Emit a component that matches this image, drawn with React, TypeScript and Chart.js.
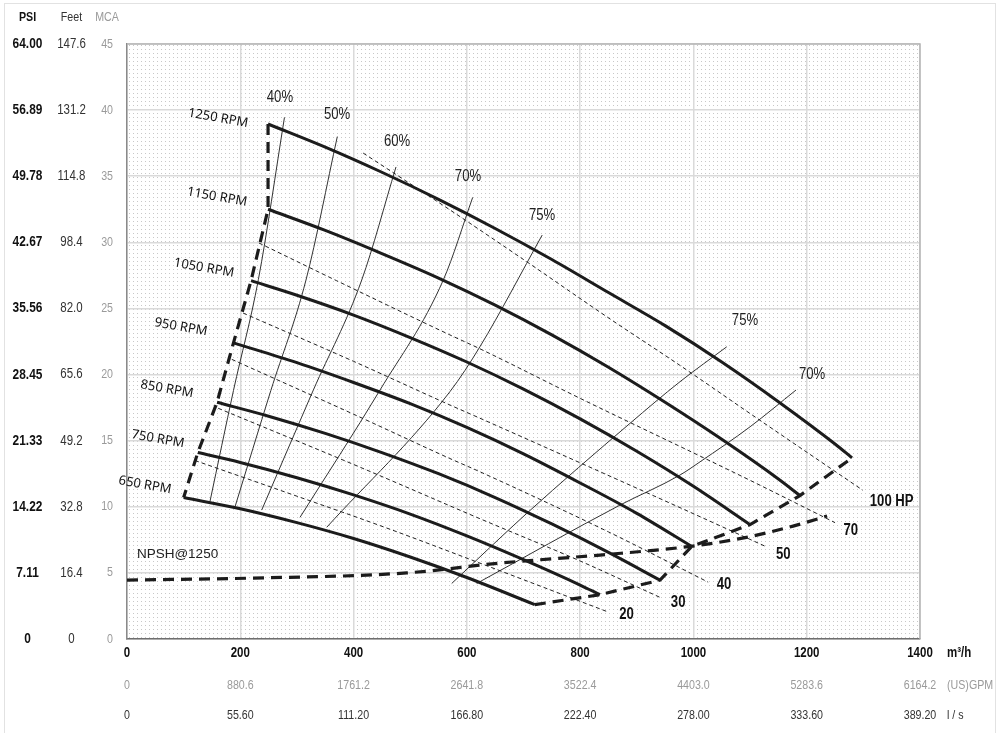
import React, { useEffect, useRef } from 'react';
import { Chart, registerables } from 'chart.js';

Chart.register(...registerables);

// condensed look: Liberation Sans drawn horizontally squeezed (see fillText wrapper)
const COND = "'Liberation Sans', Arial, sans-serif";
const HUMAN = "'Noto Sans', 'Open Sans', sans-serif";
const SQUEEZE = 0.82;

type Pt = [number, number];

// ---- tick labels ----
const flowTicks = ['0', '200', '400', '600', '800', '1000', '1200', '1400'];
const gpmTicks = ['0', '880.6', '1761.2', '2641.8', '3522.4', '4403.0', '5283.6', '6164.2'];
const lsTicks = ['0', '55.60', '111.20', '166.80', '222.40', '278.00', '333.60', '389.20'];
const mcaTicks = ['0', '5', '10', '15', '20', '25', '30', '35', '40', '45'];
const feetTicks = ['0', '16.4', '32.8', '49.2', '65.6', '82.0', '98.4', '114.8', '131.2', '147.6'];
const psiTicks = ['0', '7.11', '14.22', '21.33', '28.45', '35.56', '42.67', '49.78', '56.89', '64.00'];

// ---- pump curves (flow m3/h, head MCA) ----
const rpm1250: Pt[] = [[249, 38.95], [350, 37.2], [450, 35.3], [550, 33.25], [650, 31.05], [750, 28.7], [850, 26.2], [950, 23.7], [1050, 20.95], [1150, 17.95], [1250, 14.75], [1280, 13.7]];
const rpm1150: Pt[] = [[249, 32.5], [350, 30.9], [450, 29.15], [550, 27.3], [650, 25.25], [750, 23.0], [850, 20.55], [950, 17.9], [1050, 15.1], [1150, 12.1], [1188, 10.85]];
const rpm1050: Pt[] = [[219, 27.1], [300, 26.0], [400, 24.5], [500, 22.8], [600, 20.95], [700, 18.9], [800, 16.65], [900, 14.2], [1000, 11.55], [1100, 8.65]];
const rpm950: Pt[] = [[188, 22.4], [300, 20.9], [400, 19.4], [500, 17.8], [600, 16.0], [700, 14.0], [800, 11.8], [900, 9.5], [997, 7.0]];
const rpm850: Pt[] = [[159, 17.9], [250, 16.85], [350, 15.55], [450, 14.1], [550, 12.5], [650, 10.7], [750, 8.7], [850, 6.55], [941, 4.45]];
const rpm750: Pt[] = [[125, 14.1], [200, 13.35], [300, 12.2], [400, 10.9], [500, 9.45], [600, 7.8], [700, 6.0], [800, 4.08], [835, 3.35]];
const rpm650: Pt[] = [[100, 10.7], [200, 9.85], [300, 8.8], [400, 7.6], [500, 6.2], [600, 4.65], [720, 2.6]];

// ---- thick dashed lines ----
const minFlowLine: Pt[] = [[249, 38.95], [249, 32.5], [219, 27.1], [188, 22.4], [159, 17.9], [125, 14.1], [100, 10.7]];
const maxFlowLine: Pt[] = [[720, 2.6], [835, 3.35], [941, 4.45], [997, 7.0], [1100, 8.65], [1188, 10.85], [1280, 13.7]];
const npsh1250: Pt[] = [[0, 4.46], [217, 4.6], [494, 5.0], [658, 5.74], [835, 6.35], [999, 7.03], [1096, 7.71], [1176, 8.54], [1236, 9.3]];

// ---- power lines (HP) ----
const hp100: Pt[] = [[417, 36.75], [565, 32.6], [700, 28.7], [853, 24.2], [976, 20.7], [1112, 16.7], [1299, 11.25]];
const hp70: Pt[] = [[233, 29.95], [370, 27.1], [570, 23.0], [623, 21.95], [800, 18.2], [1100, 12.0], [1250, 8.8]];
const hp50: Pt[] = [[205, 24.65], [400, 21.0], [570, 17.7], [623, 16.7], [947, 10.5], [1130, 6.95]];
const hp40: Pt[] = [[185, 21.15], [400, 17.0], [570, 13.65], [623, 12.65], [850, 8.1], [1026, 4.3]];
const hp30: Pt[] = [[161, 17.45], [400, 13.2], [623, 9.1], [800, 5.9], [941, 3.15]];
const hp20: Pt[] = [[120, 13.5], [300, 10.8], [458, 8.4], [650, 5.3], [849, 2.05]];

// ---- efficiency curves ----
const eff40: Pt[] = [[146.5, 10.4], [188, 18.8], [232, 27.2], [278, 39.45]];
const eff50: Pt[] = [[190.7, 10.0], [254, 18.8], [316, 27.15], [371.3, 38.0]];
const eff60: Pt[] = [[237.8, 9.75], [329, 18.83], [414.4, 27.15], [474.9, 35.7]];
const eff70: Pt[] = [[305.4, 9.2], [446.7, 18.83], [558.4, 27.15], [610.3, 33.4]];
const eff75a: Pt[] = [[352.6, 8.45], [570, 18.7], [623, 22.1], [733, 30.55]];
const eff75b: Pt[] = [[573.3, 4.2], [705.7, 9.5], [888, 16.31], [976.3, 19.46], [1058.8, 22.1]];
const eff70b: Pt[] = [[617.4, 4.2], [870.4, 10.13], [976.3, 12.4], [1011.7, 13.4], [1100, 16.05], [1181.1, 18.83]];

// ---- annotation texts (anchors in data units) ----
const effNames = ['40%', '50%', '60%', '70%', '75%', '75%', '70%'];
const effAt: Pt[] = [[270, 40.98], [370.8, 39.63], [476.7, 37.59], [602, 34.94], [732.7, 31.99], [1091, 24.05], [1209.4, 19.96]];
const rpmNames = ['1250 RPM', '1150 RPM', '1050 RPM', '950 RPM', '850 RPM', '750 RPM', '650 RPM'];
const rpmAt: Pt[] = [[160.7, 39.4], [158.9, 33.43], [135.9, 28.06], [95.3, 23.59], [70.6, 18.9], [54.7, 15.12], [31.8, 11.64]];
const hpNames = ['20', '30', '40', '50', '70', '100 HP'];
const hpAt: Pt[] = [[882, 1.81], [973, 2.74], [1054, 4.08], [1158.7, 6.35], [1277.7, 8.18], [1350, 10.38]];
const npshName = 'NPSH@1250';
const npshAt: Pt = [89.2, 6.38];
const axisHeaders = ['PSI', 'Feet', 'MCA'];
const unitNames = ['m³/h', '(US)GPM', 'l / s'];

const toXY = (a: Pt[]) => a.map(([x, y]) => ({ x, y }));

export default function App() {
  const ref = useRef<HTMLCanvasElement | null>(null);

  useEffect(() => {
    const canvas = ref.current;
    if (!canvas) return;
    const ctx0 = canvas.getContext('2d')!;
    const rawFill = ctx0.fillText.bind(ctx0);
    (ctx0 as any).fillText = (text: string, x: number, y: number, maxWidth?: number) => {
      if (ctx0.font.indexOf('Liberation Sans') >= 0) {
        const w = ctx0.measureText(text).width * SQUEEZE;
        rawFill(text, x, y, maxWidth !== undefined ? Math.min(maxWidth, w) : w);
      } else if (maxWidth !== undefined) {
        rawFill(text, x, y, maxWidth);
      } else {
        rawFill(text, x, y);
      }
    };

    const mctx = document.createElement('canvas').getContext('2d')!;
    const widest = (font: string, labels: string[]) => {
      mctx.font = font;
      return Math.max(...labels.map((l) => mctx.measureText(l).width));
    };
    const psiW = widest(`bold 14.5px ${COND}`, psiTicks);
    const feetW = widest(`14px ${COND}`, feetTicks);

    const PAD_L = 4;
    const PSI_WIDTH = 46;
    const FEET_WIDTH = 42;
    const MCA_WIDTH = 35;
    const PSI_C = 27.5;
    const FEET_C = 71.5;
    const MCA_R = 113;
    const psiRight = PAD_L + PSI_WIDTH;
    const feetRight = psiRight + FEET_WIDTH;

    const curve = (data: Pt[]) => ({
      data: toXY(data), showLine: true, borderColor: '#1c1c1c', borderWidth: 3,
      pointRadius: 0, cubicInterpolationMode: 'monotone' as const, fill: false,
    });
    const thickDash = (data: Pt[], mono: boolean) => ({
      data: toXY(data), showLine: true, borderColor: '#1c1c1c', borderWidth: 3.2,
      borderDash: [11, 7], pointRadius: 0, tension: 0, fill: false,
      cubicInterpolationMode: mono ? ('monotone' as const) : ('default' as const),
    });
    const thinDash = (data: Pt[]) => ({
      data: toXY(data), showLine: true, borderColor: '#222', borderWidth: 1,
      borderDash: [4, 3], pointRadius: 0, cubicInterpolationMode: 'monotone' as const, fill: false,
    });
    const thin = (data: Pt[]) => ({
      data: toXY(data), showLine: true, borderColor: '#333', borderWidth: 1,
      pointRadius: 0, cubicInterpolationMode: 'monotone' as const, fill: false,
    });

    const pat = document.createElement('canvas');
    pat.width = 4; pat.height = 4;
    const pctx = pat.getContext('2d')!;
    pctx.fillStyle = '#ffffff';
    pctx.fillRect(0, 0, 4, 4);
    pctx.fillStyle = '#c8c8c8';
    pctx.fillRect(1, 1, 1, 1);

    const bgPlugin = {
      id: 'bg',
      beforeDraw(chart: any) {
        const { ctx, chartArea: a } = chart;
        ctx.save();
        ctx.fillStyle = '#ffffff';
        ctx.fillRect(0, 0, chart.width, chart.height);
        ctx.strokeStyle = '#e2e2e2';
        ctx.lineWidth = 1;
        ctx.strokeRect(4.5, 3.5, 991, 740);
        ctx.fillStyle = ctx.createPattern(pat, 'repeat');
        ctx.fillRect(a.left, a.top, a.right - a.left, a.bottom - a.top);
        ctx.restore();
      },
    };

    const textPlugin = {
      id: 'texts',
      afterDraw(chart: any) {
        const { ctx, scales, chartArea: a } = chart;
        const xs = scales.x;
        const ys = scales.y;
        const px = (q: number) => xs.getPixelForValue(q);
        const py = (h: number) => ys.getPixelForValue(h);
        ctx.save();
        ctx.strokeStyle = '#b5b5b5';
        ctx.lineWidth = 1.5;
        ctx.beginPath();
        ctx.moveTo(a.left, a.top);
        ctx.lineTo(a.right, a.top);
        ctx.lineTo(a.right, a.bottom);
        ctx.stroke();

        ctx.textBaseline = 'middle';
        ctx.textAlign = 'center';
        ctx.font = `16px ${COND}`;
        ctx.fillStyle = '#222';
        effNames.forEach((t, i) => ctx.fillText(t, px(effAt[i][0]), py(effAt[i][1])));

        ctx.font = `13px ${HUMAN}`;
        ctx.fillStyle = '#111';
        rpmNames.forEach((t, i) => {
          ctx.save();
          ctx.translate(px(rpmAt[i][0]), py(rpmAt[i][1]));
          ctx.rotate((10 * Math.PI) / 180);
          ctx.fillText(t, 0, 0);
          ctx.restore();
        });

        ctx.font = `bold 16px ${COND}`;
        ctx.fillStyle = '#111';
        hpNames.forEach((t, i) => ctx.fillText(t, px(hpAt[i][0]), py(hpAt[i][1])));

        ctx.font = `13.5px ${COND}`;
        ctx.fillStyle = '#222';
        rawFill(npshName, px(npshAt[0]), py(npshAt[1]));

        const hy = 17;
        ctx.font = `bold 13px ${COND}`;
        ctx.fillStyle = '#111';
        ctx.fillText(axisHeaders[0], PSI_C, hy);
        ctx.font = `13px ${COND}`;
        ctx.fillStyle = '#333';
        ctx.fillText(axisHeaders[1], FEET_C, hy);
        ctx.fillStyle = '#9a9a9a';
        ctx.fillText(axisHeaders[2], MCA_R - 6, hy);

        const ux = a.right + 27;
        ctx.textAlign = 'left';
        ctx.font = `bold 14px ${COND}`;
        ctx.fillStyle = '#111';
        ctx.fillText(unitNames[0], ux, scales.x.top + 6 + 8.4);
        ctx.font = `13px ${COND}`;
        ctx.fillStyle = '#9a9a9a';
        ctx.fillText(unitNames[1], ux, scales.xGpm.top + 8 + 7.8);
        ctx.fillStyle = '#333';
        ctx.fillText(unitNames[2], ux, scales.xLs.top + 7 + 7.8);
        ctx.restore();
      },
    };

    const noGrid = { display: false, drawTicks: false };
    const grid = { color: '#dadada', lineWidth: 1.5, drawTicks: false };

    const chart = new Chart(canvas, {
      type: 'scatter',
      data: {
        datasets: [
          curve(rpm1250), curve(rpm1150), curve(rpm1050), curve(rpm950), curve(rpm850), curve(rpm750), curve(rpm650),
          thickDash(minFlowLine, false), thickDash(maxFlowLine, false), thickDash(npsh1250, true),
          thinDash(hp100), thinDash(hp70), thinDash(hp50), thinDash(hp40), thinDash(hp30), thinDash(hp20),
          thin(eff40), thin(eff50), thin(eff60), thin(eff70), thin(eff75a), thin(eff75b), thin(eff70b),
        ] as any,
      },
      options: {
        animation: false,
        responsive: false,
        devicePixelRatio: 1,
        events: [],
        layout: { padding: { left: PAD_L, right: 88, top: 44, bottom: 1 } },
        plugins: { legend: { display: false }, tooltip: { enabled: false } },
        scales: {
          x: {
            type: 'linear', position: 'bottom', weight: 0, min: 0, max: 1400,
            grid, border: { display: true, color: '#6f6f6f', width: 1.5 },
            ticks: {
              stepSize: 200, autoSkip: false, maxRotation: 0, padding: 6, color: '#111',
              font: { family: COND, size: 14, weight: 'bold' },
              callback: (_v: any, i: number) => flowTicks[i],
            },
            afterFit: (s: any) => { s.height = 31; },
          },
          xGpm: {
            type: 'linear', axis: 'x', position: 'bottom', weight: 1, min: 0, max: 1400,
            grid: noGrid, border: { display: false },
            ticks: {
              stepSize: 200, autoSkip: false, maxRotation: 0, padding: 8, color: '#9a9a9a',
              font: { family: COND, size: 13 },
              callback: (_v: any, i: number) => gpmTicks[i],
            },
            afterFit: (s: any) => { s.height = 31; },
          },
          xLs: {
            type: 'linear', axis: 'x', position: 'bottom', weight: 2, min: 0, max: 1400,
            grid: noGrid, border: { display: false },
            ticks: {
              stepSize: 200, autoSkip: false, maxRotation: 0, padding: 7, color: '#333',
              font: { family: COND, size: 13 },
              callback: (_v: any, i: number) => lsTicks[i],
            },
            afterFit: (s: any) => { s.height = 31; },
          },
          y: {
            type: 'linear', position: 'left', weight: 0, min: 0, max: 45,
            grid, border: { display: true, color: '#8a8a8a', width: 1.5 },
            ticks: {
              stepSize: 5, autoSkip: false, padding: 127 - MCA_R, color: '#9a9a9a',
              font: { family: COND, size: 13 },
              callback: (_v: any, i: number) => mcaTicks[i],
            },
            afterFit: (s: any) => { s.width = MCA_WIDTH; },
          },
          yFeet: {
            type: 'linear', axis: 'y', position: 'left', weight: 1, min: 0, max: 45,
            grid: noGrid, border: { display: false },
            ticks: {
              stepSize: 5, autoSkip: false, crossAlign: 'center', padding: feetRight - FEET_C - feetW / 2,
              color: '#333', font: { family: COND, size: 14 },
              callback: (_v: any, i: number) => feetTicks[i],
            },
            afterFit: (s: any) => { s.width = FEET_WIDTH; },
          },
          yPsi: {
            type: 'linear', axis: 'y', position: 'left', weight: 2, min: 0, max: 45,
            grid: noGrid, border: { display: false },
            ticks: {
              stepSize: 5, autoSkip: false, crossAlign: 'center', padding: psiRight - PSI_C - psiW / 2,
              color: '#111', font: { family: COND, size: 14.5, weight: 'bold' },
              callback: (_v: any, i: number) => psiTicks[i],
            },
            afterFit: (s: any) => { s.width = PSI_WIDTH; },
          },
        },
      } as any,
      plugins: [bgPlugin, textPlugin],
    });

    return () => {
      chart.destroy();
      delete (ctx0 as any).fillText;
    };
  }, []);

  return (
    <canvas
      ref={ref}
      width={1008}
      height={733}
      style={{ position: 'absolute', left: 0, top: 0, width: 1008, height: 733 }}
    />
  );
}
